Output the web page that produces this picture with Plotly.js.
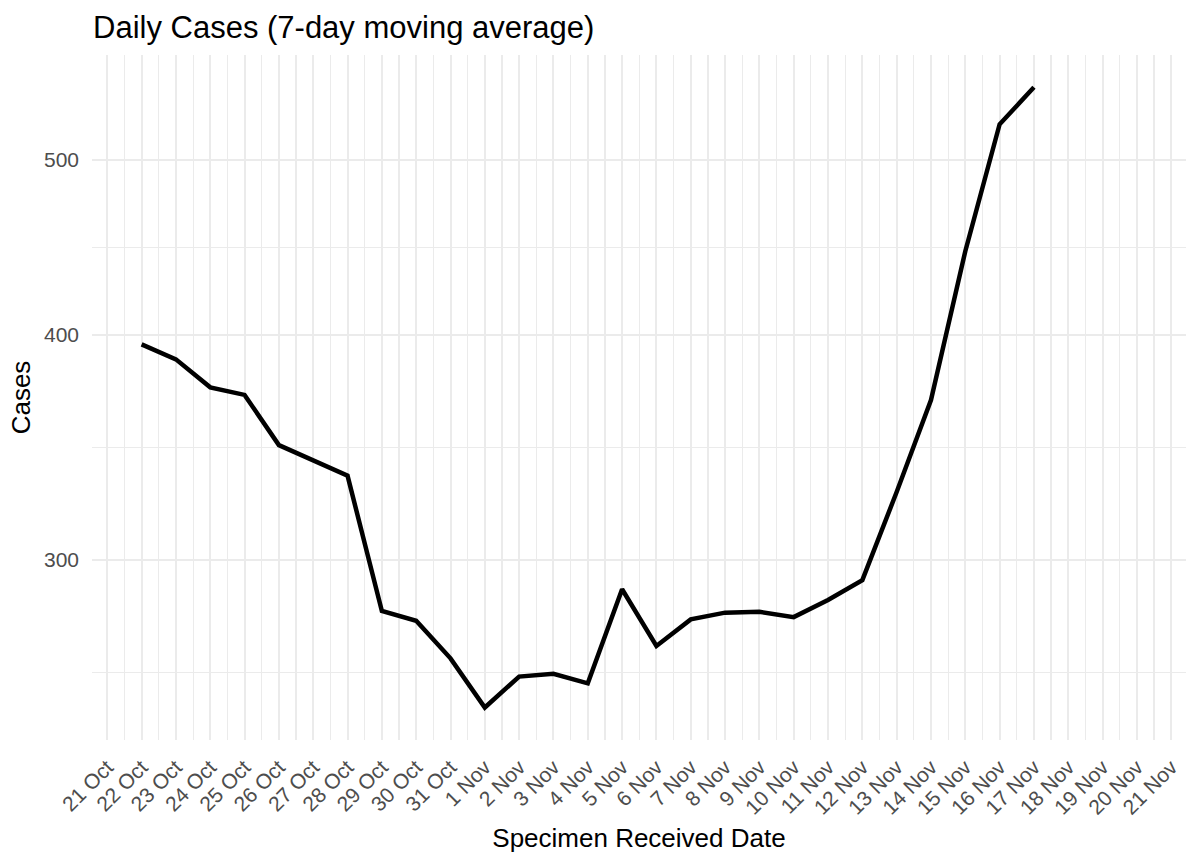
<!DOCTYPE html>
<html>
<head>
<meta charset="utf-8">
<script src="https://cdn.plot.ly/plotly-3.0.1.min.js"></script>
<style>
  html, body { margin: 0; padding: 0; background: #ffffff; }
  #chart { width: 1200px; height: 857px; }
</style>
</head>
<body>
<div id="chart"></div>
<script>
// Dates (specimen received) and 7-day moving average of daily cases
const dates = [
  '2020-10-22','2020-10-23','2020-10-24','2020-10-25','2020-10-26','2020-10-27','2020-10-28',
  '2020-10-29','2020-10-30','2020-10-31','2020-11-01','2020-11-02','2020-11-03','2020-11-04',
  '2020-11-05','2020-11-06','2020-11-07','2020-11-08','2020-11-09','2020-11-10','2020-11-11',
  '2020-11-12','2020-11-13','2020-11-14','2020-11-15','2020-11-16','2020-11-17'
];
const cases = [
  395.1, 387.6, 374.0, 370.4, 347.4, 340.8, 334.1,
  281.1, 277.6, 264.6, 248.5, 258.5, 259.4, 256.3,
  289.0, 268.8, 278.1, 280.5, 280.8, 278.9, 285.1,
  292.4, 327.2, 368.0, 445.0, 523.3, 548.6
];
// Axis breaks
const yMajorTicks = [300, 400, 500];
const yMinorTicks = [259.8, 346.4, 447.2];
const xTickStart = '2020-10-21';
const xRange = ['2020-10-20 13:18', '2020-11-21 10:20'];
const yRange = [238.4, 571.7];

const FONT = '"Liberation Sans", Arial, Helvetica, sans-serif';
const DAY = 86400000;

const trace = {
  x: dates,
  y: cases,
  type: 'scatter',
  mode: 'lines',
  line: { color: '#000000', width: 4.5 },
  hoverinfo: 'x+y'
};

const layout = {
  width: 1200,
  height: 857,
  paper_bgcolor: '#ffffff',
  plot_bgcolor: '#ffffff',
  margin: { l: 92, r: 14, t: 55, b: 117, pad: 0 },
  showlegend: false,
  font: { family: FONT, color: '#000000' },
  title: {
    text: 'Daily Cases (7-day moving average)',
    font: { family: FONT, size: 31, color: '#000000' },
    xref: 'container', yref: 'container',
    x: 93 / 1200, xanchor: 'left',
    y: 1 - 27 / 857, yanchor: 'middle'
  },
  xaxis: {
    type: 'date',
    range: xRange,
    tickmode: 'linear',
    tick0: xTickStart,
    dtick: DAY,
    tickformat: '%-d %b',
    tickangle: -45,
    tickfont: { family: FONT, size: 21, color: '#4D4D4D' },
    ticks: '',
    ticklabelstandoff: 10,
    showgrid: true,
    gridcolor: '#EBEBEB',
    gridwidth: 2,
    zeroline: false,
    showline: false,
    automargin: false,
    minor: {
      tickmode: 'linear',
      tick0: xTickStart + ' 12:00',
      dtick: DAY,
      showgrid: true,
      gridcolor: '#EBEBEB',
      gridwidth: 1.2,
      ticks: ''
    },
    title: {
      text: 'Specimen Received Date',
      font: { family: FONT, size: 26, color: '#000000' },
      standoff: 10
    }
  },
  yaxis: {
    type: 'log',
    range: [Math.log10(yRange[0]), Math.log10(yRange[1])],
    tickmode: 'array',
    tickvals: yMajorTicks,
    ticktext: yMajorTicks.map(String),
    tickfont: { family: FONT, size: 21, color: '#4D4D4D' },
    ticks: '',
    ticklabelstandoff: 12,
    showgrid: true,
    gridcolor: '#EBEBEB',
    gridwidth: 2,
    zeroline: false,
    showline: false,
    automargin: false,
    minor: {
      tickmode: 'array',
      tickvals: yMinorTicks,
      showgrid: true,
      gridcolor: '#EBEBEB',
      gridwidth: 1.2,
      ticks: ''
    },
    title: {
      text: 'Cases',
      font: { family: FONT, size: 26, color: '#000000' },
      standoff: 5
    }
  }
};

Plotly.newPlot('chart', [trace], layout, { displayModeBar: false, staticPlot: true });
</script>
</body>
</html>
